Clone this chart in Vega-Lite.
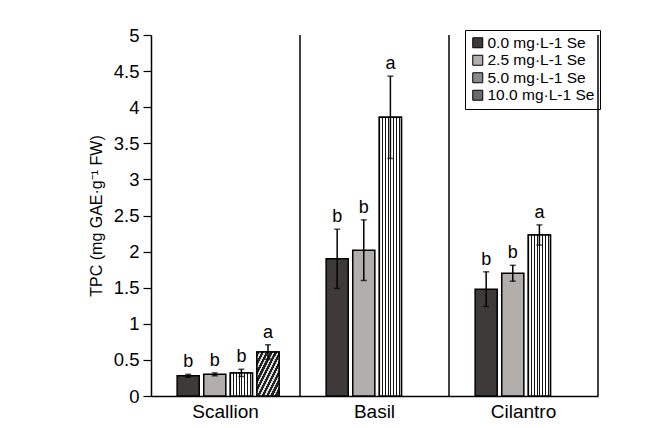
{
  "$schema": "https://vega.github.io/schema/vega-lite/v6.json",
  "width": 447,
  "height": 361,
  "autosize": {"type": "none"},
  "padding": {"left": 151, "top": 35, "right": 74, "bottom": 32},
  "background": "white",
  "config": {
    "view": {"stroke": null},
    "font": "Liberation Sans",
    "axisX": {
      "labelAngle": 0, "labelAlign": "center", "ticks": false, "labelFontSize": 19,
      "labelColor": "black", "labelPadding": 6, "domainColor": "black", "domainWidth": 1.5,
      "labelFont": "Liberation Sans", "grid": false
    },
    "axisY": {
      "titleFontSize": 16, "titleFontWeight": "normal", "titleColor": "black", "titlePadding": 9,
      "titleFont": "Liberation Sans",
      "labelFontSize": 18.5, "labelColor": "black", "labelPadding": 4, "labelFont": "Liberation Sans",
      "tickColor": "black", "tickSize": 8, "tickWidth": 1.2,
      "domainColor": "black", "domainWidth": 1.5, "grid": false,
      "labelFlush": false, "labelOverlap": false
    }
  },
  "datasets": {
    "bars": [
      {"crop": "Scallion", "trt": "0.0 mg·L-1 Se", "mean": 0.28, "lo": 0.26, "hi": 0.30, "sig": "b"},
      {"crop": "Scallion", "trt": "2.5 mg·L-1 Se", "mean": 0.30, "lo": 0.28, "hi": 0.32, "sig": "b"},
      {"crop": "Scallion", "trt": "5.0 mg·L-1 Se", "mean": 0.32, "lo": 0.27, "hi": 0.37, "sig": "b"},
      {"crop": "Scallion", "trt": "10.0 mg·L-1 Se", "mean": 0.61, "lo": 0.51, "hi": 0.71, "sig": "a"},
      {"crop": "Basil", "trt": "0.0 mg·L-1 Se", "mean": 1.90, "lo": 1.49, "hi": 2.31, "sig": "b"},
      {"crop": "Basil", "trt": "2.5 mg·L-1 Se", "mean": 2.02, "lo": 1.60, "hi": 2.44, "sig": "b"},
      {"crop": "Basil", "trt": "5.0 mg·L-1 Se", "mean": 3.86, "lo": 3.29, "hi": 4.43, "sig": "a"},
      {"crop": "Cilantro", "trt": "0.0 mg·L-1 Se", "mean": 1.48, "lo": 1.24, "hi": 1.72, "sig": "b"},
      {"crop": "Cilantro", "trt": "2.5 mg·L-1 Se", "mean": 1.70, "lo": 1.59, "hi": 1.81, "sig": "b"},
      {"crop": "Cilantro", "trt": "5.0 mg·L-1 Se", "mean": 2.23, "lo": 2.09, "hi": 2.37, "sig": "a"}
    ],
    "groups": [
      {"crop": "Scallion"},
      {"crop": "Basil"},
      {"crop": "Cilantro"}
    ]
  },
  "layer": [
    {
      "data": {"name": "bars"},
      "mark": {"type": "bar", "stroke": "black", "strokeWidth": 1.5},
      "encoding": {
        "x": {
          "field": "crop", "type": "nominal", "sort": ["Scallion", "Basil", "Cilantro"],
          "scale": {"paddingInner": 0, "paddingOuter": 0},
          "axis": {"title": null, "labelAngle": 0, "labelAlign": "center"}
        },
        "xOffset": {
          "field": "trt", "type": "nominal",
          "sort": ["0.0 mg·L-1 Se", "2.5 mg·L-1 Se", "5.0 mg·L-1 Se", "10.0 mg·L-1 Se"],
          "scale": {"domain": ["0.0 mg·L-1 Se", "2.5 mg·L-1 Se", "5.0 mg·L-1 Se", "10.0 mg·L-1 Se"], "paddingInner": 0.17, "paddingOuter": 0.885, "align": 0.555}
        },
        "y": {
          "field": "mean", "type": "quantitative", "stack": null,
          "scale": {"domain": [0, 5], "nice": false},
          "axis": {"title": "TPC (mg GAE·g⁻¹ FW)", "values": [0, 0.5, 1, 1.5, 2, 2.5, 3, 3.5, 4, 4.5, 5], "format": "~g", "labelFontSize": 18.5, "titleFontSize": 16, "labelOverlap": false}
        },
        "fill": {
          "field": "trt", "type": "nominal",
          "sort": ["0.0 mg·L-1 Se", "2.5 mg·L-1 Se", "5.0 mg·L-1 Se", "10.0 mg·L-1 Se"],
          "scale": {
            "domain": ["0.0 mg·L-1 Se", "2.5 mg·L-1 Se", "5.0 mg·L-1 Se", "10.0 mg·L-1 Se"],
            "range": ["#3d3a39", "#b1aeac", "#8a8a8a", "#6a6a6a"]
          },
          "legend": {
            "title": null, "orient": "none", "legendX": 314, "legendY": -5,
            "symbolType": "square", "symbolSize": 100, "symbolStrokeColor": "black", "symbolStrokeWidth": 1,
            "symbolOpacity": 1,
            "labelFontSize": 15.5, "labelColor": "black", "labelFont": "Liberation Sans", "labelOffset": 2,
            "rowPadding": 0.5, "strokeColor": "black", "padding": 5, "labelLimit": 300
          }
        }
      }
    },
    {
      "data": {"name": "bars"},
      "transform": [{"filter": "datum.trt === '5.0 mg·L-1 Se'"}],
      "mark": {
        "type": "bar", "stroke": "black", "strokeWidth": 1.5,
        "fill": {"gradient": "linear", "x1": 0, "y1": 0, "x2": 1, "y2": 0, "stops": [
          {"offset": 0, "color": "#111"}, {"offset": 0.05, "color": "#111"}, {"offset": 0.05, "color": "#fff"}, {"offset": 0.125, "color": "#fff"},
          {"offset": 0.125, "color": "#111"}, {"offset": 0.175, "color": "#111"}, {"offset": 0.175, "color": "#fff"}, {"offset": 0.25, "color": "#fff"},
          {"offset": 0.25, "color": "#111"}, {"offset": 0.3, "color": "#111"}, {"offset": 0.3, "color": "#fff"}, {"offset": 0.375, "color": "#fff"},
          {"offset": 0.375, "color": "#111"}, {"offset": 0.425, "color": "#111"}, {"offset": 0.425, "color": "#fff"}, {"offset": 0.5, "color": "#fff"},
          {"offset": 0.5, "color": "#111"}, {"offset": 0.55, "color": "#111"}, {"offset": 0.55, "color": "#fff"}, {"offset": 0.625, "color": "#fff"},
          {"offset": 0.625, "color": "#111"}, {"offset": 0.675, "color": "#111"}, {"offset": 0.675, "color": "#fff"}, {"offset": 0.75, "color": "#fff"},
          {"offset": 0.75, "color": "#111"}, {"offset": 0.8, "color": "#111"}, {"offset": 0.8, "color": "#fff"}, {"offset": 0.875, "color": "#fff"},
          {"offset": 0.875, "color": "#111"}, {"offset": 0.925, "color": "#111"}, {"offset": 0.925, "color": "#fff"}, {"offset": 1, "color": "#fff"}
        ]}
      },
      "encoding": {
        "x": {"field": "crop", "type": "nominal", "sort": ["Scallion", "Basil", "Cilantro"]},
        "xOffset": {"field": "trt", "type": "nominal"},
        "y": {"field": "mean", "type": "quantitative", "stack": null,
          "axis": {"title": "TPC (mg GAE·g⁻¹ FW)", "values": [0, 0.5, 1, 1.5, 2, 2.5, 3, 3.5, 4, 4.5, 5], "format": "~g", "labelFontSize": 18.5, "titleFontSize": 16, "labelOverlap": false}}
      }
    },
    {
      "data": {"name": "bars"},
      "transform": [{"filter": "datum.trt === '10.0 mg·L-1 Se'"}],
      "mark": {
        "type": "bar", "stroke": "black", "strokeWidth": 1.5,
        "fill": {"gradient": "linear", "x1": 0, "y1": 0, "x2": 1, "y2": 1, "stops": [
          {"offset": 0, "color": "#222"}, {"offset": 0.06, "color": "#222"}, {"offset": 0.06, "color": "#ddd"}, {"offset": 0.1, "color": "#ddd"},
          {"offset": 0.1, "color": "#222"}, {"offset": 0.16, "color": "#222"}, {"offset": 0.16, "color": "#ddd"}, {"offset": 0.2, "color": "#ddd"},
          {"offset": 0.2, "color": "#222"}, {"offset": 0.26, "color": "#222"}, {"offset": 0.26, "color": "#ddd"}, {"offset": 0.3, "color": "#ddd"},
          {"offset": 0.3, "color": "#222"}, {"offset": 0.36, "color": "#222"}, {"offset": 0.36, "color": "#ddd"}, {"offset": 0.4, "color": "#ddd"},
          {"offset": 0.4, "color": "#222"}, {"offset": 0.46, "color": "#222"}, {"offset": 0.46, "color": "#ddd"}, {"offset": 0.5, "color": "#ddd"},
          {"offset": 0.5, "color": "#222"}, {"offset": 0.56, "color": "#222"}, {"offset": 0.56, "color": "#ddd"}, {"offset": 0.6, "color": "#ddd"},
          {"offset": 0.6, "color": "#222"}, {"offset": 0.66, "color": "#222"}, {"offset": 0.66, "color": "#ddd"}, {"offset": 0.7, "color": "#ddd"},
          {"offset": 0.7, "color": "#222"}, {"offset": 0.76, "color": "#222"}, {"offset": 0.76, "color": "#ddd"}, {"offset": 0.8, "color": "#ddd"},
          {"offset": 0.8, "color": "#222"}, {"offset": 0.86, "color": "#222"}, {"offset": 0.86, "color": "#ddd"}, {"offset": 0.9, "color": "#ddd"},
          {"offset": 0.9, "color": "#222"}, {"offset": 0.96, "color": "#222"}, {"offset": 0.96, "color": "#ddd"}, {"offset": 1, "color": "#ddd"}
        ]}
      },
      "encoding": {
        "x": {"field": "crop", "type": "nominal", "sort": ["Scallion", "Basil", "Cilantro"]},
        "xOffset": {"field": "trt", "type": "nominal"},
        "y": {"field": "mean", "type": "quantitative", "stack": null,
          "axis": {"title": "TPC (mg GAE·g⁻¹ FW)", "values": [0, 0.5, 1, 1.5, 2, 2.5, 3, 3.5, 4, 4.5, 5], "format": "~g", "labelFontSize": 18.5, "titleFontSize": 16, "labelOverlap": false}}
      }
    },
    {
      "data": {"name": "bars"},
      "mark": {"type": "rule", "color": "black", "strokeWidth": 1.5},
      "encoding": {
        "x": {"field": "crop", "type": "nominal", "sort": ["Scallion", "Basil", "Cilantro"]},
        "xOffset": {"field": "trt", "type": "nominal"},
        "y": {"field": "lo", "type": "quantitative",
          "axis": {"title": "TPC (mg GAE·g⁻¹ FW)", "values": [0, 0.5, 1, 1.5, 2, 2.5, 3, 3.5, 4, 4.5, 5], "format": "~g", "labelFontSize": 18.5, "titleFontSize": 16, "labelOverlap": false}},
        "y2": {"field": "hi"}
      }
    },
    {
      "data": {"name": "bars"},
      "mark": {"type": "tick", "color": "black", "thickness": 1.5, "size": 6},
      "encoding": {
        "x": {"field": "crop", "type": "nominal", "sort": ["Scallion", "Basil", "Cilantro"]},
        "xOffset": {"field": "trt", "type": "nominal"},
        "y": {"field": "hi", "type": "quantitative",
          "axis": {"title": "TPC (mg GAE·g⁻¹ FW)", "values": [0, 0.5, 1, 1.5, 2, 2.5, 3, 3.5, 4, 4.5, 5], "format": "~g", "labelFontSize": 18.5, "titleFontSize": 16, "labelOverlap": false}}
      }
    },
    {
      "data": {"name": "bars"},
      "mark": {"type": "tick", "color": "black", "thickness": 1.5, "size": 6},
      "encoding": {
        "x": {"field": "crop", "type": "nominal", "sort": ["Scallion", "Basil", "Cilantro"]},
        "xOffset": {"field": "trt", "type": "nominal"},
        "y": {"field": "lo", "type": "quantitative",
          "axis": {"title": "TPC (mg GAE·g⁻¹ FW)", "values": [0, 0.5, 1, 1.5, 2, 2.5, 3, 3.5, 4, 4.5, 5], "format": "~g", "labelFontSize": 18.5, "titleFontSize": 16, "labelOverlap": false}}
      }
    },
    {
      "data": {"name": "bars"},
      "mark": {"type": "text", "baseline": "bottom", "dy": -3, "fontSize": 18, "color": "black", "font": "Liberation Sans"},
      "encoding": {
        "x": {"field": "crop", "type": "nominal", "sort": ["Scallion", "Basil", "Cilantro"]},
        "xOffset": {"field": "trt", "type": "nominal"},
        "y": {"field": "hi", "type": "quantitative",
          "axis": {"title": "TPC (mg GAE·g⁻¹ FW)", "values": [0, 0.5, 1, 1.5, 2, 2.5, 3, 3.5, 4, 4.5, 5], "format": "~g", "labelFontSize": 18.5, "titleFontSize": 16, "labelOverlap": false}},
        "text": {"field": "sig"}
      }
    },
    {
      "data": {"name": "groups"},
      "mark": {"type": "rule", "color": "black", "strokeWidth": 1.5},
      "encoding": {
        "x": {"field": "crop", "type": "nominal", "bandPosition": 1, "sort": ["Scallion", "Basil", "Cilantro"]}
      }
    }
  ]
}
